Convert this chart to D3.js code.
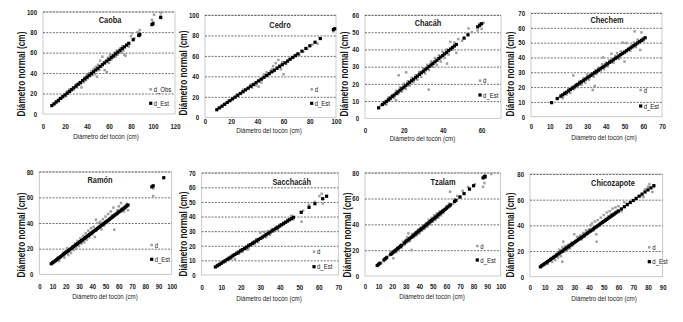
<!DOCTYPE html>
<html>
<head>
<meta charset="utf-8">
<script src="https://cdn.jsdelivr.net/npm/d3@7"></script>
<style>
  body { margin: 0; background: #fff; }
  svg { display: block; }
</style>
</head>
<body>
<svg id="chart" width="683" height="322"></svg>
<script>
// ---- data: [diámetro del tocón, diámetro normal] ------------------------------
const caobaObs = [[9,9],[11,10],[12,12.5],[14,12],[15,15],[17,16],[18,18],[20,19.5],[21,17.5],[22,22],[23,20],[24,24],[25,22],[27,26],[28,24],[30,29],[31,26],[33,31],[34,29],[35,26],[36,33],[37,31],[38,36],[39,33],[40,38],[41,35],[42,40],[43,37],[44,42],[45,38],[46,44],[47,39],[48,46],[49,36.5],[50,48],[51,43],[52,52],[53,46],[54,56],[55,50],[56,43],[57,52],[58,41],[59,55],[60,50],[61,58],[62,53],[63,57],[64,55],[65,60],[66,56],[67,62],[68,58],[70,64],[71,60],[72,66],[73,62],[74,58],[75,57],[76,68],[78,66],[80,76],[81,79],[83,74],[86,80],[88,82],[88,76],[99,92],[100,90],[101,97],[107,96],[107,99]];
const caobaEst = [[8,8.2],[10,9.9],[12,11.7],[14,13.4],[16,15.2],[18,16.9],[20,18.6],[22,20.4],[24,22.1],[26,23.8],[28,25.6],[30,27.3],[32,29.1],[34,30.8],[36,32.6],[38,34.3],[40,36.0],[42,37.8],[44,39.5],[46,41.3],[48,43.0],[50,44.7],[52,46.5],[54,48.2],[56,49.9],[58,51.7],[60,53.4],[62,55.2],[64,56.9],[66,58.7],[68,60.4],[70,62.1],[72,63.9],[74,65.6],[76,67.3],[78,69.1],[82,72.6],[87,76.9],[88,77.8],[99,87.4],[100,88.2],[107,94.3]];

const cedroObs = [[10,9],[12,10],[14,12.5],[16,14],[18,16.5],[20,17],[22,19],[24,22],[26,23],[28,24],[29,27],[30,26.5],[32,28],[34,30],[35,32],[36,29],[38,33],[39,31],[40,35],[41,30],[42,37],[43,34],[44,38],[45,42],[46,40],[47,44],[48,41],[50,45],[51,47],[52,50],[53,45],[54,53],[55,49],[56,56],[57,51],[58,47],[59,54],[60,42],[62,52],[64,57],[66,58],[68,60],[70,62],[72,61],[75,64],[78,67],[82,71],[86,72],[98,84]];
const cedroEst = [[9,7.4],[11,9.2],[13,10.9],[15,12.7],[17,14.5],[19,16.2],[21,18.0],[23,19.7],[25,21.5],[27,23.3],[29,25.0],[31,26.8],[33,28.5],[35,30.3],[37,32.1],[39,33.8],[41,35.6],[43,37.3],[45,39.1],[47,40.9],[49,42.6],[51,44.4],[53,46.1],[55,47.9],[57,49.7],[59,51.4],[61,53.2],[63,54.9],[65,56.7],[67,58.5],[69,60.2],[71,62.0],[74,64.6],[77,67.3],[80,69.9],[84,73.4],[88,77.0],[98,85.7],[99,86.6]];

const chacahObs = [[8,7.5],[10,9.5],[11,8],[12,12],[13,10.5],[14,13.5],[15,12],[16,16],[16,10.5],[17,14],[17.3,25],[18,18],[19,15.5],[20,20],[21,17],[21.2,26.7],[22,21.5],[23,19],[24,23.5],[25,21],[26,25],[27,22.5],[28,27],[29,24],[30,29],[31,26],[32,31],[32.8,16.7],[33,28],[34,33],[35,30],[36,35],[37,31],[38,36.5],[39,33],[40,38.5],[41,35],[42,40],[42.2,31.8],[43,37],[43.9,44.4],[45,40],[46,44],[47,38],[48,46],[50,45],[53.3,52.2],[55,50],[58,51],[59,55],[60,52],[61,55.5]];
const chacahEst = [[7,6.1],[9,8.0],[10,8.9],[11,9.8],[12,10.7],[13,11.7],[14,12.6],[15,13.5],[16,14.4],[17,15.3],[18,16.3],[19,17.2],[20,18.1],[21,19.0],[22,19.9],[23,20.9],[24,21.8],[25,22.7],[26,23.6],[27,24.5],[28,25.5],[29,26.4],[30,27.3],[31,28.2],[32,29.1],[33,30.1],[34,31.0],[35,31.9],[36,32.8],[37,33.7],[38,34.7],[39,35.6],[40,36.5],[41,37.4],[42,38.3],[43,39.3],[44,40.2],[45,41.1],[46,42.0],[47,42.9],[51,46.6],[53,48.5],[58,53.1],[59,54.0],[60,54.9]];

const chechemObs = [[15,13],[16,14.5],[17,12.5],[18,16.5],[19,15],[20,18.5],[21,16],[22,20],[22.6,27.8],[23,18.5],[24,22],[25,20],[26,24],[27,21.5],[28,26],[29,23],[30,28.5],[31,25],[32,29],[33,18],[33.5,27],[34,20.8],[34.5,31.5],[35,29],[36,33],[37,31],[38,35.5],[38.5,40],[39,32],[40,36.5],[41,34],[42,38],[43,42.5],[44,36.5],[45,41],[46,43],[47,39],[48,44],[49,50],[50,37.2],[51,49.7],[52,46],[53,44.5],[54,48],[55,50],[55.4,57.6],[56,47],[57,52],[58,50.5],[58.4,45],[59,56.9],[60,51]];
const chechemEst = [[11,9.5],[14,12.2],[16,13.9],[17,14.8],[18,15.7],[19,16.5],[20,17.4],[21,18.3],[22,19.2],[23,20.0],[24,20.9],[25,21.8],[26,22.7],[27,23.5],[28,24.4],[29,25.3],[30,26.2],[31,27.0],[32,27.9],[33,28.8],[34,29.7],[35,30.5],[36,31.4],[37,32.3],[38,33.2],[39,34.0],[40,34.9],[41,35.8],[42,36.7],[43,37.5],[44,38.4],[45,39.3],[46,40.1],[47,41.0],[48,41.9],[49,42.8],[50,43.6],[51,44.5],[52,45.4],[53,46.3],[54,47.1],[55,48.0],[56,48.9],[57,49.8],[58,50.6],[59,51.5],[60,52.4],[61,53.3]];

const ramonObs = [[10,9],[12,11],[14,13],[15,10.5],[16,14],[18,17],[19,13],[20,18],[21,20.5],[22,15],[23,19],[24,16.6],[25,22],[26,19],[27,24],[28,20],[29,26],[30,22],[31,28],[32,24],[33,30],[34,25],[35,32],[36,27],[37,34],[38,29],[39,36],[40,31],[41,37],[42,29],[42.8,42.6],[43,34],[44,40],[45,36],[46,41],[47,35],[48,43],[49,38],[50,45],[51,40],[52,47],[53,43],[54,49],[55,46],[56,52],[56.6,34.8],[58,47],[59,50],[60,53],[61.7,55.6],[62,51],[64,49],[65,53],[66,55],[67,50],[86,61],[86,67]];
const ramonEst = [[9,8.2],[10,9.0],[11,9.7],[12,10.5],[13,11.3],[14,12.1],[15,12.9],[16,13.7],[17,14.5],[18,15.3],[19,16.1],[20,16.9],[21,17.6],[22,18.4],[23,19.2],[24,20.0],[25,20.8],[26,21.6],[27,22.4],[28,23.2],[29,24.0],[30,24.8],[31,25.5],[32,26.3],[33,27.1],[34,27.9],[35,28.7],[36,29.5],[37,30.3],[38,31.1],[39,31.9],[40,32.7],[41,33.4],[42,34.2],[43,35.0],[44,35.8],[45,36.6],[46,37.4],[47,38.2],[48,39.0],[49,39.8],[50,40.6],[51,41.3],[52,42.1],[53,42.9],[54,43.7],[55,44.5],[56,45.3],[57,46.1],[58,46.9],[59,47.7],[60,48.5],[61,49.2],[62,50.0],[63,50.8],[64,51.6],[65,52.4],[66,53.2],[67,54.0],[85,68.2],[86,69.0],[94,75.3]];

const sacchacahObs = [[8,7],[9,6.5],[10,8.5],[11,9.5],[12,9],[13,11],[14,12],[15,11],[16,14],[17,10.7],[18,15.5],[19,14.5],[20,17.5],[21,16],[22,19],[23,17.5],[23.9,17.6],[24,21],[25,20],[26,22.5],[27,21],[28,24.5],[29,22.5],[30,29],[31,25],[32,29.5],[33,26],[34,30],[35,27.5],[36,31.5],[37,30],[38,33],[39,31],[40,34.5],[42,36],[44,38],[46,40.5],[47,38],[51.2,36.5],[52,44],[55,48],[58,50],[60.3,54],[61.5,55.6],[62,49]];
const sacchacahEst = [[7,5.5],[8,6.3],[9,7.2],[10,8.0],[11,8.9],[12,9.7],[13,10.6],[14,11.4],[15,12.3],[16,13.1],[17,14.0],[18,14.8],[19,15.7],[20,16.5],[21,17.4],[22,18.2],[23,19.1],[24,19.9],[25,20.8],[26,21.6],[27,22.5],[28,23.3],[29,24.2],[30,25.0],[31,25.9],[32,26.7],[33,27.6],[34,28.4],[35,29.3],[36,30.1],[37,31.0],[38,31.8],[39,32.7],[40,33.5],[41,34.4],[42,35.2],[43,36.1],[44,36.9],[45,37.8],[46,38.6],[47,39.5],[51,42.9],[55,46.3],[58,48.8],[62,52.2],[64,53.9]];

const tzalamObs = [[10,8.5],[12,10],[14,11.5],[16,15],[18,16],[19,18.5],[20,17],[20.9,13.7],[22,20],[23,18.5],[24,22],[25,20],[26,24],[27,22],[28,26.5],[29,24],[30,28],[31,30],[32,33],[33,27],[34.4,20.1],[35,32.5],[36,30],[37,34],[38,31.5],[39,36],[40,33],[41,37.5],[42,35],[43,39],[44,36.5],[45,41],[46,38],[47,43.5],[48,40],[49,45],[50,42],[51,47],[52,43.5],[53,48.5],[54,45],[55,50],[56,47],[57,51],[58,49],[60,54],[62,56],[62.7,65.3],[65,56],[66,59.5],[68,62],[70,61],[72,66],[76,69],[81,71],[87,69],[88,72],[89,76],[93,79]];
const tzalamEst = [[9,8.1],[10,9.0],[11,9.9],[14,12.5],[15,13.4],[16,14.2],[19,16.8],[20,17.7],[21,18.6],[22,19.4],[23,20.3],[24,21.2],[25,22.1],[26,22.9],[27,23.8],[29,25.5],[30,26.4],[31,27.3],[32,28.1],[33,29.0],[34,29.9],[35,30.8],[36,31.6],[37,32.5],[38,33.4],[39,34.2],[40,35.1],[41,36.0],[42,36.8],[43,37.7],[44,38.6],[45,39.5],[46,40.3],[47,41.2],[48,42.1],[49,42.9],[50,43.8],[51,44.7],[52,45.5],[53,46.4],[54,47.3],[55,48.2],[56,49.0],[57,49.9],[58,50.8],[59,51.6],[60,52.5],[61,53.4],[62,54.2],[63,55.1],[66,57.7],[67,58.6],[70,61.2],[73,63.8],[77,67.3],[80,69.9],[87,76.0],[88,76.9],[88.5,77.3]];

const chicozapoteObs = [[8,8],[10,9.5],[12,10],[14,13],[15,11.5],[16,15],[17,13],[18,17.5],[19,15],[20,21],[21,16],[21.9,11.7],[22,23],[22.6,27.3],[23,19.5],[24,24],[25,20.5],[26,25],[27,22],[28,26.5],[29,24.5],[30,33],[31,28],[32,31],[33,30],[34,32],[35,29],[36,34],[37,31],[38,36],[39,33.5],[40,37],[41,40],[42,41.5],[43,36],[44,43],[45,33],[45.2,27.3],[46,44],[47,40],[48,46],[49,43],[50,48],[51,45],[52,50],[53,47],[54,51],[55,48.5],[56,53],[58,54],[60,55],[62,51],[64,58],[66,57],[70,59],[72,60],[75,63],[77,62],[78,68],[80,70],[81,72],[83,66],[84,70]];
const chicozapoteEst = [[7,7.7],[8,8.6],[9,9.4],[10,10.2],[11,11.0],[12,11.8],[13,12.7],[14,13.5],[15,14.3],[16,15.1],[17,15.9],[18,16.8],[19,17.6],[20,18.4],[21,19.2],[22,20.0],[23,20.9],[24,21.7],[25,22.5],[26,23.3],[27,24.1],[28,25.0],[29,25.8],[30,26.6],[31,27.4],[32,28.2],[33,29.1],[34,29.9],[35,30.7],[36,31.5],[37,32.3],[38,33.2],[39,34.0],[40,34.8],[41,35.6],[42,36.4],[43,37.3],[44,38.1],[45,38.9],[46,39.7],[47,40.5],[48,41.4],[49,42.2],[50,43.0],[51,43.8],[52,44.6],[53,45.5],[54,46.3],[55,47.1],[56,47.9],[57,48.7],[58,49.6],[59,50.4],[60,51.2],[62,52.8],[64,54.5],[66,56.1],[68,57.8],[70,59.4],[72,61.0],[74,62.7],[76,64.3],[78,66.0],[80,67.6],[82,69.2],[84,70.9]];

// tick values
const ticks0to120by20 = [0,20,40,60,80,100,120];
const ticks0to100by20 = [0,20,40,60,80,100];
const ticks0to100by10 = [0,10,20,30,40,50,60,70,80,90,100];
const ticks0to90by10 = [0,10,20,30,40,50,60,70,80,90];
const ticks0to80by20 = [0,20,40,60,80];
const ticks0to70by10 = [0,10,20,30,40,50,60,70];
const ticks0to60by10 = [0,10,20,30,40,50,60];
const ticks0to60by20 = [0,20,40,60];

// ---- panel layout (pixel boxes) --------------------------------------------------
const panels = [
  { name: 'Caoba', obs: caobaObs, est: caobaEst, obsLabel: 'd_Obs',
    xMax: 120, xTicks: ticks0to120by20, yMax: 100, yTicks: ticks0to100by20,
    box: [43, 11.7, 175, 114], yTitle: [21.7, 74], xLabY: 126.7, xTitle: [106, 136],
    title: [110, 20], leg: [150.7, 89.3, 103.3] },
  { name: 'Cedro', obs: cedroObs, est: cedroEst, obsLabel: 'd',
    xMax: 100, xTicks: ticks0to100by20, yMax: 100, yTicks: ticks0to100by20,
    box: [205, 15, 336, 117.3], yTitle: [183.3, 73], xLabY: 121, xTitle: [269, 130],
    title: [280, 25], leg: [311.7, 89.3, 103.3] },
  { name: 'Chacáh', obs: chacahObs, est: chacahEst, obsLabel: 'd',
    xMax: 70, xTicks: ticks0to60by20, yMax: 60, yTicks: ticks0to60by10,
    box: [365, 15, 501, 118.3], yTitle: [344, 74], xLabY: 130.7, xTitle: [422.5, 138.3],
    title: [428, 23], leg: [480, 80.7, 95] },
  { name: 'Chechem', obs: chechemObs, est: chechemEst, obsLabel: 'd',
    xMax: 70, xTicks: ticks0to70by10, yMax: 70, yTicks: ticks0to70by10,
    box: [531, 13, 662, 116.7], yTitle: [510, 74], xLabY: 126.7, xTitle: [604, 137.3],
    title: [607, 20], leg: [640.7, 90, 106] },
  { name: 'Ramón', obs: ramonObs, est: ramonEst, obsLabel: 'd',
    xMax: 100, xTicks: ticks0to100by10, yMax: 80, yTicks: ticks0to80by20,
    box: [39.3, 171.7, 171.7, 274.3], yTitle: [21.7, 235], xLabY: 286, xTitle: [105, 296.7],
    title: [100, 180], leg: [151.7, 245, 259.3] },
  { name: 'Sacchacáh', obs: sacchacahObs, est: sacchacahEst, obsLabel: 'd',
    xMax: 70, xTicks: ticks0to70by10, yMax: 70, yTicks: ticks0to70by10,
    box: [201.7, 172.7, 338.3, 275], yTitle: [183.3, 234], xLabY: 287.3, xTitle: [269, 298.3],
    title: [291.7, 181.7], leg: [314, 251.7, 266.7] },
  { name: 'Tzalam', obs: tzalamObs, est: tzalamEst, obsLabel: 'd',
    xMax: 100, xTicks: ticks0to100by10, yMax: 80, yTicks: ticks0to80by20,
    box: [365, 172.7, 500.7, 276], yTitle: [347, 235], xLabY: 286.7, xTitle: [432, 296.7],
    title: [443, 181.7], leg: [477.3, 246, 260] },
  { name: 'Chicozapote', obs: chicozapoteObs, est: chicozapoteEst, obsLabel: 'd',
    xMax: 90, xTicks: ticks0to90by10, yMax: 80, yTicks: ticks0to80by20,
    box: [530, 174, 662.7, 276.7], yTitle: [510, 235], xLabY: 287.3, xTitle: [604, 298.3],
    title: [613, 183], leg: [649.3, 247.3, 261.7] }
];

const FONT = '"Liberation Sans",Arial,sans-serif';
const TXT = '#1a1a1a';
const OBS = '#a0a0a0';
const EST = '#000';
const OBS_SIZE = 2.5;
const EST_SIZE = 3.2;

// Liberation Sans squeezed to the width of a narrow face (the original uses Calibri)
const narrow = sel => sel.each(function () {
  const w = this.getComputedTextLength();
  d3.select(this).attr('textLength', w * 0.82).attr('lengthAdjust', 'spacingAndGlyphs');
});

const svg = d3.select('#chart');

panels.forEach(p => {
  const [L, T, R, B] = p.box;
  const g = svg.append('g');

  const x = d3.scaleLinear().domain([0, p.xMax]).range([L, R]);
  const y = d3.scaleLinear().domain([0, p.yMax]).range([B, T]);

  // plot area border
  g.append('rect')
    .attr('x', L).attr('y', T).attr('width', R - L).attr('height', B - T)
    .attr('fill', 'none').attr('stroke', '#bdbdbd').attr('stroke-width', 0.8);

  // dashed gridlines
  g.append('g')
    .attr('transform', 'translate(' + L + ',0)')
    .call(d3.axisLeft(y).tickValues(p.yTicks.filter(v => v > 0)).tickSize(-(R - L)).tickFormat(''))
    .call(a => a.select('.domain').remove())
    .selectAll('line')
    .attr('stroke', '#4d4d4d').attr('stroke-width', 0.8).attr('stroke-dasharray', '2,1.3');

  // y tick labels
  g.append('g')
    .attr('transform', 'translate(' + L + ',0)')
    .call(d3.axisLeft(y).tickValues(p.yTicks).tickSize(0).tickPadding(6))
    .call(a => a.select('.domain').remove())
    .selectAll('text')
    .attr('font-family', FONT).attr('font-size', 7.3).attr('font-weight', 'bold').attr('fill', TXT)
    .call(narrow);

  // x tick labels
  g.append('g')
    .attr('transform', 'translate(0,' + B + ')')
    .call(d3.axisBottom(x).tickValues(p.xTicks).tickSize(0).tickPadding(0))
    .call(a => a.select('.domain').remove())
    .selectAll('text')
    .attr('y', p.xLabY - B).attr('dy', '0.35em')
    .attr('font-family', FONT).attr('font-size', 7.3).attr('font-weight', 'bold').attr('fill', TXT)
    .call(narrow);

  // observed points
  g.append('g').selectAll('rect')
    .data(p.obs).enter().append('rect')
    .attr('x', d => x(d[0]) - OBS_SIZE / 2).attr('y', d => y(d[1]) - OBS_SIZE / 2)
    .attr('width', OBS_SIZE).attr('height', OBS_SIZE)
    .attr('fill', OBS);

  // estimated points
  g.append('g').selectAll('rect')
    .data(p.est).enter().append('rect')
    .attr('x', d => x(d[0]) - EST_SIZE / 2).attr('y', d => y(d[1]) - EST_SIZE / 2)
    .attr('width', EST_SIZE).attr('height', EST_SIZE)
    .attr('fill', EST);

  // title
  g.append('text')
    .attr('x', p.title[0]).attr('y', p.title[1]).attr('dy', '0.35em')
    .attr('text-anchor', 'middle')
    .attr('font-family', FONT).attr('font-size', 9).attr('font-weight', 'bold').attr('fill', TXT)
    .text(p.name)
    .call(narrow);

  // axis titles
  g.append('text')
    .attr('transform', 'translate(' + p.yTitle[0] + ',' + p.yTitle[1] + ') rotate(-90)')
    .attr('dy', '0.35em').attr('text-anchor', 'middle')
    .attr('font-family', FONT).attr('font-size', 10).attr('font-weight', 'bold').attr('fill', TXT)
    .text('Diámetro normal (cm)')
    .call(narrow);
  g.append('text')
    .attr('x', p.xTitle[0]).attr('y', p.xTitle[1]).attr('dy', '0.35em')
    .attr('text-anchor', 'middle')
    .attr('font-family', FONT).attr('font-size', 7.5).attr('fill', TXT)
    .text('Diámetro del tocón (cm)')
    .call(narrow);

  // legend
  const [lx, ly1, ly2] = p.leg;
  g.append('rect').attr('x', lx - OBS_SIZE / 2).attr('y', ly1 - OBS_SIZE / 2)
    .attr('width', OBS_SIZE).attr('height', OBS_SIZE).attr('fill', OBS);
  g.append('rect').attr('x', lx - EST_SIZE / 2).attr('y', ly2 - EST_SIZE / 2)
    .attr('width', EST_SIZE).attr('height', EST_SIZE).attr('fill', EST);
  g.append('text').attr('x', lx + 3).attr('y', ly1).attr('dy', '0.35em')
    .attr('font-family', FONT).attr('font-size', 7.3).attr('fill', TXT).text(p.obsLabel)
    .call(narrow);
  g.append('text').attr('x', lx + 3).attr('y', ly2).attr('dy', '0.35em')
    .attr('font-family', FONT).attr('font-size', 7.3).attr('fill', TXT).text('d_Est')
    .call(narrow);
});
</script>
</body>
</html>
